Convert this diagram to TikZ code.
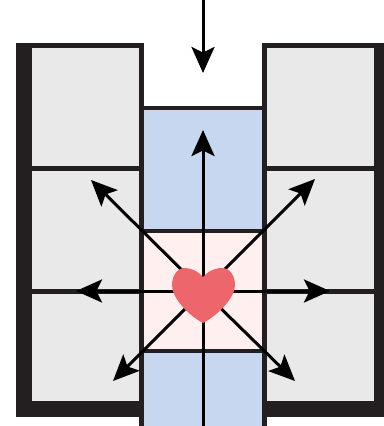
\documentclass[tikz,border=0pt]{standalone}
\usetikzlibrary{arrows.meta}
\definecolor{cus-dark}{RGB}{35, 31, 32}
\definecolor{cus-grey}{RGB}{233, 233, 233}
\definecolor{cus-blue}{RGB}{198, 215, 239}
\definecolor{cus-pink}{RGB}{255, 240, 239}
\definecolor{cus-red}{RGB}{236, 102, 107}
\tikzset{
	wall/.style={fill=cus-dark,draw=none},
	cell/.style={fill=cus-grey,draw=none},
	push/.style={-{Stealth[length=.52cm,width=.46cm,inset=.11cm]},line width=.06cm,black}
}
\begin{document}
\begin{tikzpicture}[x=.02cm,y=-.02cm]
\useasboundingbox (0 ,0) rectangle (384 ,426);
% side walls
\fill [wall] (16 ,43) rectangle (144 ,417);
\fill [wall] (262 ,43) rectangle (384 ,417);
\foreach \x in {32,267}{
	\foreach \y/\h in {48/166,171/289,294/401}{
		\fill [cell] (\x ,\y) rectangle (\x+107 ,\h);
	}
}
% channel
\fill [wall] (139 ,106) rectangle (267 ,426);
\fill [cus-blue] (144 ,110) rectangle (262 ,229);
\fill [cus-pink] (144 ,233) rectangle (262 ,349);
\fill [cus-blue] (144 ,353) rectangle (262 ,426);
\fill [white] (144 ,48) rectangle (262 ,106);
% arrows
\coordinate (core) at (203 ,291);
\coordinate (inlet) at (203 ,0);
\coordinate (outlet) at (203 ,426);
\draw [push] (inlet) -- (203 ,73);
\draw [push] (outlet) -- (203 ,130);
\foreach \tx/\ty in {91/180,315/179,113/381,295/381,76/291,330/291}{
	\draw [push] (core) -- (\tx ,\ty);
}
% heart
\fill [cus-red] (203 ,323) .. controls (188 ,315) and (172 ,298) .. (172 ,285)
	.. controls (172 ,276) and (177 ,268) .. (185 ,268)
	.. controls (192 ,268) and (199 ,272) .. (203 ,277)
	.. controls (207 ,272) and (214 ,268) .. (222 ,268)
	.. controls (230 ,268) and (235 ,276) .. (235 ,285)
	.. controls (235 ,298) and (218 ,315) .. (203 ,323) -- cycle;
\end{tikzpicture}
\end{document}
